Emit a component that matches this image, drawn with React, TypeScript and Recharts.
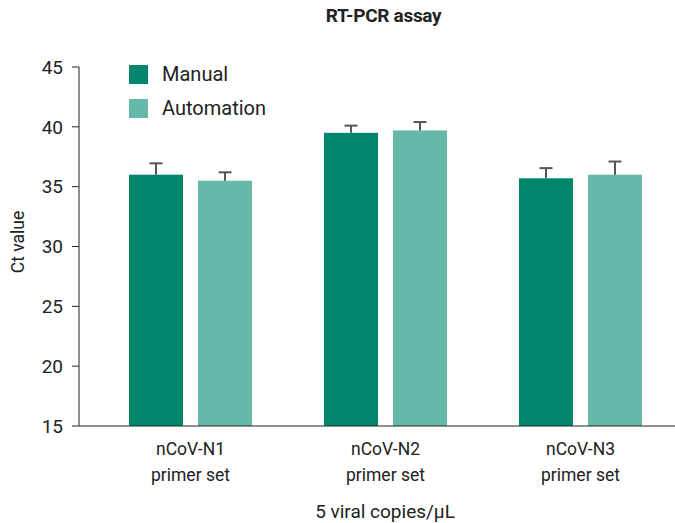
import { BarChart, Bar, XAxis, YAxis } from "recharts";

const PRIMERS = ["nCoV-N1", "nCoV-N2", "nCoV-N3"];
const MANUAL = [36.0, 39.5, 35.7];
const MANUAL_ERR = [0.95, 0.6, 0.85];
const AUTOMATION = [35.5, 39.7, 36.0];
const AUTOMATION_ERR = [0.7, 0.7, 1.1];
const Y_TICKS = [15, 20, 25, 30, 35, 40, 45];
const Y_MIN = 15;

const GREEN = "#00876b";
const LIGHT = "#66b9a8";
const FONT = "Roboto, 'Noto Sans', sans-serif";

const SERIES = [
  { key: "manual", name: "Manual", color: GREEN },
  { key: "automation", name: "Automation", color: LIGHT },
];

const data = PRIMERS.map((name, i) => ({
  name,
  manual: MANUAL[i],
  manualErr: MANUAL_ERR[i],
  automation: AUTOMATION[i],
  automationErr: AUTOMATION_ERR[i],
}));

function PrimerTick({ x, y, payload }: any) {
  return (
    <text x={x} y={y} textAnchor="middle" fill="#222" fontSize={17.5} fontFamily={FONT}>
      <tspan x={x} dy={21}>{payload.value}</tspan>
      <tspan x={x} dy={26}>primer set</tspan>
    </text>
  );
}

// bar plus an upper-only error whisker; pixel length taken from the bar's own scale
function barWithError(errKey: string, valueKey: string) {
  return (props: any) => {
    const { x, y, width, height, fill, payload } = props;
    const pxPerUnit = height / (payload[valueKey] - Y_MIN);
    const top = y - payload[errKey] * pxPerUnit;
    const cx = x + width / 2;
    return (
      <g>
        <rect x={x} y={y} width={width} height={height} fill={fill} />
        <line x1={cx} x2={cx} y1={y} y2={top} stroke="#555" strokeWidth={2} />
        <line x1={cx - 6.5} x2={cx + 6.5} y1={top} y2={top} stroke="#555" strokeWidth={2} />
      </g>
    );
  };
}

export default function App() {
  return (
    <div style={{ position: "absolute", left: 0, top: 0, width: 675, height: 523, background: "#fff" }}>
      <div style={{ position: "absolute", top: 4, left: 0, width: 767, textAlign: "center", fontFamily: FONT, fontWeight: 700, fontSize: 19, letterSpacing: -0.3, color: "#222" }}>
        RT-PCR assay
      </div>
      <div style={{ position: "absolute", top: 500, left: 0, width: 770, textAlign: "center", fontFamily: FONT, fontSize: 19, color: "#222" }}>
        5 viral copies/μL
      </div>
      <div style={{ position: "absolute", left: 18, top: 242, transform: "translate(-50%, -50%) rotate(-90deg)", fontFamily: FONT, fontSize: 17.5, color: "#222", whiteSpace: "nowrap" }}>
        Ct value
      </div>
      <div style={{ position: "absolute", left: 129, top: 57, fontFamily: FONT, fontSize: 20, color: "#222", zIndex: 1 }}>
        {SERIES.map((s) => (
          <div key={s.key} style={{ display: "flex", alignItems: "center", height: 34 }}>
            <span style={{ width: 19, height: 19, background: s.color, marginRight: 14 }} />
            {s.name}
          </div>
        ))}
      </div>
      <BarChart
        width={675}
        height={523}
        data={data}
        margin={{ top: 67, right: -3, bottom: 0, left: 19 }}
        barSize={54}
        barGap={15}
      >
        <YAxis
          domain={[Y_MIN, 45]}
          ticks={Y_TICKS}
          width={60}
          tickSize={7}
          allowDataOverflow
          stroke="#222"
          tick={{ fill: "#222", fontSize: 19, fontFamily: FONT }}
          tickMargin={9}
        />
        <XAxis
          dataKey="name"
          height={97}
          stroke="#222"
          tickLine={false}
          padding={{ left: 14, right: 0 }}
          tick={<PrimerTick />}
          interval={0}
        />
        {SERIES.map((s) => (
          <Bar
            key={s.key}
            dataKey={s.key}
            name={s.name}
            fill={s.color}
            isAnimationActive={false}
            shape={barWithError(s.key + "Err", s.key)}
          />
        ))}
      </BarChart>
    </div>
  );
}
